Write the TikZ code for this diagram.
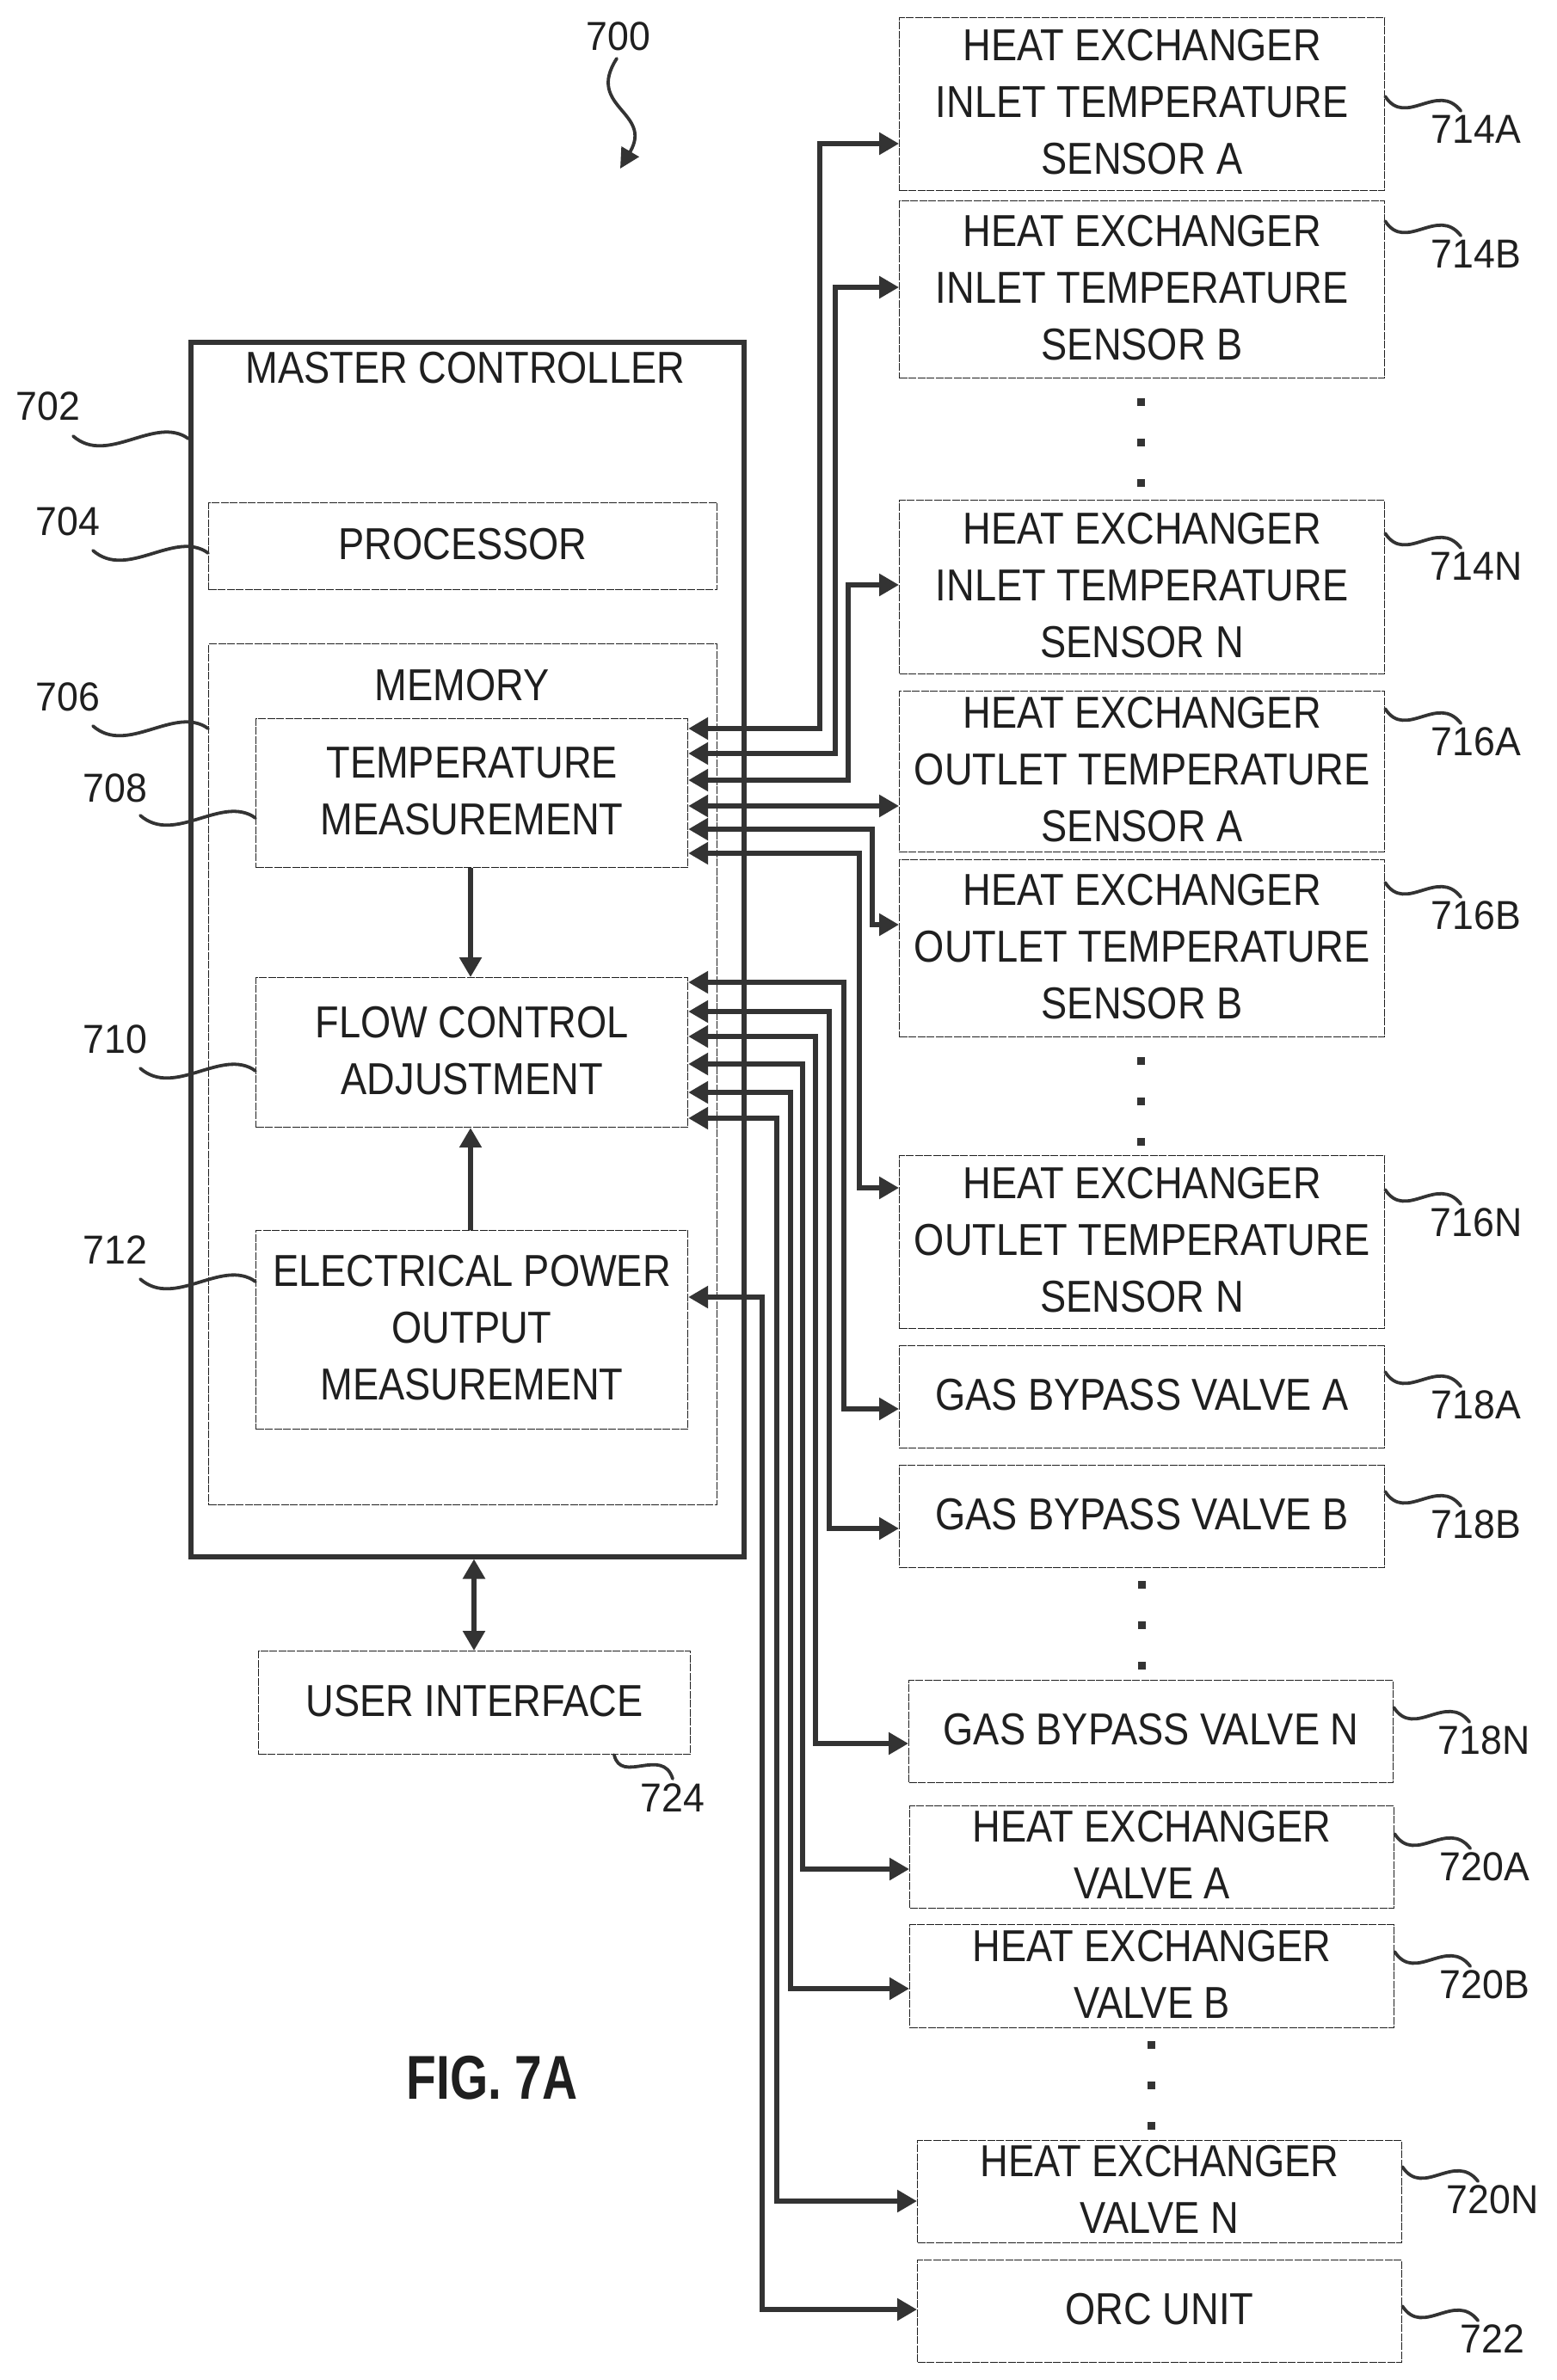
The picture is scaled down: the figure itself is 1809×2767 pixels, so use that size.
\documentclass[tikz,border=0pt]{standalone}
\usepackage{fontspec}
\usetikzlibrary{arrows.meta}
\setmainfont[FakeStretch=0.87]{Liberation Sans}
\newfontfamily\labfont[FakeStretch=0.95]{Liberation Sans}
\newfontfamily\figfont[FakeStretch=0.79]{Liberation Sans}
\definecolor{ink}{gray}{0.12}
\definecolor{inkl}{gray}{0.2}
\tikzset{
  box/.style={draw=ink,line width=1.2pt,dash pattern=on 9pt off 1.5pt,anchor=north west,inner sep=0pt,align=center,
     text=ink,text depth=5pt,font=\fontsize{52}{66}\selectfont},
  title/.style={inner sep=0pt,text=ink,font=\fontsize{52}{66}\selectfont},
  mbox/.style={draw=inkl,line width=5.5pt,anchor=north west,inner sep=0pt},
  lbl/.style={inner sep=0pt,text=ink,font=\labfont\fontsize{47}{56}\selectfont},
  conn/.style={draw=inkl,line width=5.5pt,{Triangle[length=23pt,width=25pt]}-{Triangle[length=23pt,width=25pt]}},
  connone/.style={draw=inkl,line width=5.5pt,-{Triangle[length=23pt,width=25pt]}},
  squig/.style={draw=inkl,line width=3.8pt,line cap=round},
  dotm/.style={fill=inkl,inner sep=0pt,minimum size=9pt},
}
\newcommand{\bx}[6]{\node[box,minimum width=#3pt-#1pt,minimum height=#4pt-#2pt] (#5) at (#1,#2) {#6};}
\newcommand{\link}[5]{\draw[conn] (#1.east |- 0,#2) -- (#3,#2) -- (#3,#5) -- (#4.west |- 0,#5);}
\newcommand{\lbr}[5]{\node[lbl] (#1) at (#3,#4) {#5};
  \pgfmathsetmacro{\sy}{#4-38}
  \draw[squig] (#2.east |- 0,\sy) .. controls +(24,37) and +(-27,-35) .. +(88,17);}
\newcommand{\lbl}[6]{\node[lbl] (#1) at (#3,#4) {#5};
  \draw[squig] (#2.west |- 0,#6) .. controls +(-39,-28) and +(40,35) .. +(-134,-3);}
\newcommand{\dotsv}[4]{\node[dotm] (#1a) at (#2,#3) {};\node[dotm] (#1b) at (#2,#3+#4) {};\node[dotm] (#1c) at (#2,#3+2*#4) {};}
\begin{document}
\begin{tikzpicture}[x=1pt,y=-1pt]
\useasboundingbox (0,0) rectangle (1809,2767);
\fill[white] (0,0) rectangle (1809,2767);
% right column
\bx{1045}{20}{1609}{221}{ha}{HEAT EXCHANGER\\INLET TEMPERATURE\\SENSOR A}
\bx{1045}{233}{1609}{439}{hb}{HEAT EXCHANGER\\INLET TEMPERATURE\\SENSOR B}
\bx{1045}{581}{1609}{783}{hn}{HEAT EXCHANGER\\INLET TEMPERATURE\\SENSOR N}
\bx{1045}{803}{1609}{990}{oa}{HEAT EXCHANGER\\OUTLET TEMPERATURE\\SENSOR A}
\bx{1045}{999}{1609}{1205}{ob}{HEAT EXCHANGER\\OUTLET TEMPERATURE\\SENSOR B}
\bx{1045}{1343}{1609}{1544}{on}{HEAT EXCHANGER\\OUTLET TEMPERATURE\\SENSOR N}
\bx{1045}{1564}{1609}{1683}{ga}{GAS BYPASS VALVE A}
\bx{1045}{1703}{1609}{1822}{gb}{GAS BYPASS VALVE B}
\bx{1056}{1953}{1619}{2072}{gn}{GAS BYPASS VALVE N}
\bx{1057}{2099}{1620}{2218}{va}{HEAT EXCHANGER\\VALVE A}
\bx{1057}{2237}{1620}{2357}{vb}{HEAT EXCHANGER\\VALVE B}
\bx{1066}{2488}{1629}{2607}{vn}{HEAT EXCHANGER\\VALVE N}
\bx{1066}{2627}{1629}{2746}{orc}{ORC UNIT}
% left column
\node[mbox,minimum width=643pt,minimum height=1412pt] (master) at (219,395) {};
\node[title] (mastert) at (541,428) {MASTER CONTROLLER};
\bx{242}{584}{833}{685}{proc}{PROCESSOR}
\bx{242}{748}{833}{1749}{mem}{}
\node[title] (memt) at (537,797) {MEMORY};
\bx{297}{835}{799}{1008}{temp}{TEMPERATURE\\MEASUREMENT}
\bx{297}{1136}{799}{1310}{flow}{FLOW CONTROL\\ADJUSTMENT}
\bx{297}{1430}{799}{1661}{elec}{ELECTRICAL POWER\\OUTPUT\\MEASUREMENT}
\bx{300}{1919}{802}{2039}{ui}{USER INTERFACE}
% connectors
\link{temp}{847}{953}{ha}{167}
\link{temp}{876}{971}{hb}{334}
\link{temp}{907}{986}{hn}{680}
\draw[conn] (temp.east |- 0,937) -- (oa.west |- 0,937);
\link{temp}{964}{1014}{ob}{1075}
\link{temp}{992}{999}{on}{1381}
\link{flow}{1142}{981}{ga}{1638}
\link{flow}{1176}{964}{gb}{1777}
\link{flow}{1205}{948}{gn}{2027}
\link{flow}{1237}{933}{va}{2173}
\link{flow}{1270}{919}{vb}{2312}
\link{flow}{1300}{903}{vn}{2559}
\link{elec}{1508}{886}{orc}{2685}
\draw[connone] (547,0 |- temp.south) -- (547,0 |- flow.north);
\draw[connone] (547,0 |- elec.north) -- (547,0 |- flow.south);
\draw[conn] (551,0 |- master.south) -- (551,0 |- ui.north);
% ellipsis dots
\dotsv{d1}{1326}{467}{47}
\dotsv{d2}{1326}{1233}{47}
\dotsv{d3}{1327}{1842}{47}
\dotsv{d4}{1338}{2377}{47}
% labels, right
\lbr{l714a}{ha}{1716}{150}{714A}
\lbr{l714b}{hb}{1716}{295}{714B}
\lbr{l714n}{hn}{1716}{658}{714N}
\lbr{l716a}{oa}{1716}{862}{716A}
\lbr{l716b}{ob}{1716}{1064}{716B}
\lbr{l716n}{on}{1716}{1421}{716N}
\lbr{l718a}{ga}{1716}{1633}{718A}
\lbr{l718b}{gb}{1716}{1772}{718B}
\lbr{l718n}{gn}{1725}{2023}{718N}
\lbr{l720a}{va}{1726}{2170}{720A}
\lbr{l720b}{vb}{1726}{2307}{720B}
\lbr{l720n}{vn}{1735}{2557}{720N}
\lbr{l722}{orc}{1735}{2719}{722}
% labels, left
\lbl{l702}{master}{56}{472}{702}{510}
\lbl{l704}{proc}{79}{606}{704}{643}
\lbl{l706}{mem}{79}{810}{706}{847}
\lbl{l708}{temp}{134}{916}{708}{951}
\lbl{l710}{flow}{134}{1208}{710}{1245}
\lbl{l712}{elec}{134}{1453}{712}{1490}
\node[lbl] (l724) at (782,2090) {724};
\draw[squig] (714,0 |- ui.south) .. controls (722,2075) and (770,2030) .. (782,2068);
\node[lbl] (l700) at (719,42) {700};
\coordinate (p700) at (721,196);
\draw[squig,-{Triangle[length=23pt,width=23pt]}] (717,68) .. controls (680,125) and (760,130) .. (p700);
\node[inner sep=0pt,text=ink,font=\figfont\bfseries\fontsize{72}{80}\selectfont] (fig) at (572,2416) {FIG. 7A};
\end{tikzpicture}
\end{document}
